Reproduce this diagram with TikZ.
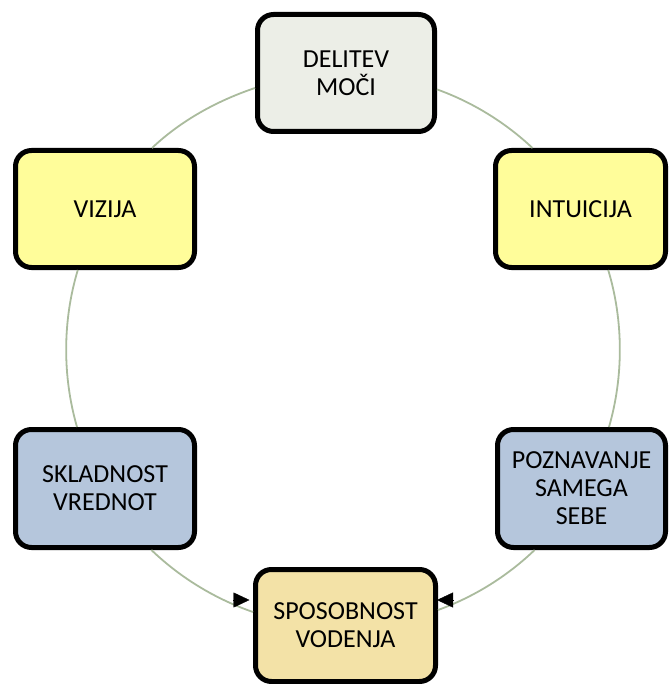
\documentclass[tikz,border=0pt]{standalone}
\usepackage{fontspec}
\setmainfont{Carlito}
\usetikzlibrary{arrows.meta}
\definecolor{boxgray}{HTML}{ECEEE7}
\definecolor{boxyellow}{HTML}{FFFD9A}
\definecolor{boxblue}{HTML}{B5C6DC}
\definecolor{boxtan}{HTML}{F3E2A7}
\definecolor{ringline}{HTML}{AABB9D}
\tikzset{
  stage/.style={draw=black, line width=5pt, rounded corners=16pt, align=center,
    inner sep=0pt, minimum width=177pt, minimum height=117pt,
    font=\fontsize{26}{28}\selectfont, text=black},
  % segments of one ring (radius 277pt); looseness 0.86 keeps each curve circular
  ring/.style={draw=ringline, line width=1.8pt, looseness=0.86},
  headtip/.style={-{Triangle[length=16pt,width=15pt]}, line width=0.4pt, draw=black},
}
\begin{document}
\begin{tikzpicture}[x=1pt,y=-1pt]
\useasboundingbox (0,0) rectangle (669,684);

% the six stages around the ring
\node[stage, fill=boxgray] (moc) at (346,73) {DELITEV\\MOČI};
\node[stage, fill=boxyellow, minimum width=179pt] (vizija) at (105,209) {VIZIJA};
\node[stage, fill=boxyellow, minimum width=170pt] (intuicija) at (580.5,209) {INTUICIJA};
\node[stage, fill=boxblue, minimum width=179pt, minimum height=118pt] (skladnost) at (105,488.5) {SKLADNOST\\VREDNOT};
\node[stage, fill=boxblue, minimum width=168pt, minimum height=118pt] (poznavanje) at (581.5,488.5) {POZNAVANJE\\SAMEGA\\SEBE};
\node[stage, fill=boxtan, minimum width=180pt, minimum height=112pt] (vodenje) at (345.5,625.5) {SPOSOBNOST\\VODENJA};

% ring segments between neighbouring stages
\draw[ring] ([yshift=-15pt]moc.west) to[out=198.6, in=43.4] ([xshift=47pt]vizija.north);
\draw[ring] ([yshift=-16.4pt]moc.east) to[out=-19.8, in=136.8] ([xshift=-48pt]intuicija.north);
\draw[ring] ([xshift=-27.2pt]vizija.south) to[out=253.2, in=106.1] ([xshift=-28pt]skladnost.north);
\draw[ring] ([xshift=27.7pt]intuicija.south) to[out=-73.2, in=73.9] ([xshift=27.5pt]poznavanje.north);
\draw[ring] ([xshift=46.4pt]skladnost.south) to[out=316.2, in=161] ([yshift=13.5pt]vodenje.west);
\draw[ring] ([xshift=-46.9pt]poznavanje.south) to[out=223.8, in=20] ([yshift=15.5pt]vodenje.east);

% arrowheads where the ring meets the bottom stage
\coordinate (tailL) at (233,600);
\coordinate (tipL) at (249.5,600);
\coordinate (tailR) at (453,600);
\coordinate (tipR) at (437,600);
\draw[headtip] (tailL) -- (tipL);
\draw[headtip] (tailR) -- (tipR);
\end{tikzpicture}
\end{document}
